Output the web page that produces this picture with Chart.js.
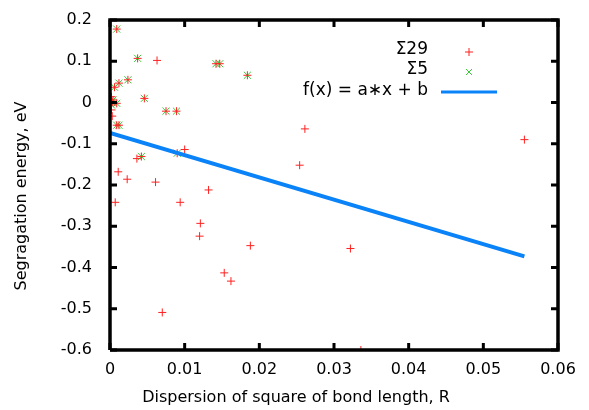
<!DOCTYPE html>
<html>
<head>
<meta charset="utf-8">
<script src="https://cdn.jsdelivr.net/npm/chart.js@4/dist/chart.umd.min.js"></script>
<style>
  html, body { margin: 0; padding: 0; background: #fff; }
</style>
</head>
<body>
<canvas id="chart" width="589" height="410"></canvas>
<script>
// axis ticks
const xTicks = [0, 0.01, 0.02, 0.03, 0.04, 0.05, 0.06];
const xTickLabels = ["0", "0.01", "0.02", "0.03", "0.04", "0.05", "0.06"];
const yTicks = [-0.6, -0.5, -0.4, -0.3, -0.2, -0.1, 0, 0.1, 0.2];
const yTickLabels = ["-0.6", "-0.5", "-0.4", "-0.3", "-0.2", "-0.1", "0", "0.1", "0.2"];

const seriesNames = ["\u03A329", "\u03A35", "f(x) = a\u2217x + b"];

// Σ5 points (green x)
const sigma5X = [0.0009, 0.0037, 0.0142, 0.0147, 0.0184, 0.0024, 0.0012, 0.0006, 0.0046,
  0.0009, 0.0075, 0.0089, 0.0009, 0.0012, 0.0042, 0.0090, 0.0003, 0.0002, 0.0004];
const sigma5Y = [0.178, 0.107, 0.094, 0.094, 0.066, 0.055, 0.047, 0.037, 0.010,
  -0.002, -0.021, -0.021, -0.055, -0.055, -0.131, -0.123, 0.001, -0.006, 0.006];

// Σ29 points (red +)
const sigma29X = [0.0009, 0.0037, 0.0142, 0.0147, 0.0184, 0.0024, 0.0012, 0.0006, 0.0046,
  0.0009, 0.0075, 0.0089, 0.0009, 0.0012, 0.0042, 0.0090, 0.0003, 0.0002, 0.0004,
  0.0002, 0.0002, 0.0003,
  0.0063, 0.0100, 0.0036, 0.0011, 0.0023, 0.0061, 0.0132, 0.0007, 0.0094, 0.0121,
  0.0120, 0.0188, 0.0153, 0.0162, 0.0070, 0.0254, 0.0261, 0.0322, 0.0336, 0.0555];
const sigma29Y = [0.178, 0.107, 0.094, 0.094, 0.066, 0.055, 0.047, 0.037, 0.010,
  -0.002, -0.021, -0.021, -0.055, -0.055, -0.131, -0.123, 0.001, -0.006, 0.006,
  0.014, -0.018, -0.033,
  0.102, -0.114, -0.136, -0.168, -0.186, -0.193, -0.212, -0.242, -0.242, -0.293,
  -0.324, -0.347, -0.413, -0.433, -0.509, -0.152, -0.064, -0.354, -0.600, -0.090];

// linear fit f(x) = a*x + b
const fitX = [0, 0.0555];
const fitY = [-0.074, -0.373];

const RED = "#ff2020";
const GREEN = "#3cc83c";
const BLUE = "#0a82f8";
const FONT = "DejaVu Sans";

const toPoints = (xs, ys) => xs.map((x, i) => ({ x: x, y: ys[i] }));

// frame of the plot, built from the axis ranges
const xMin = xTicks[0], xMax = xTicks[xTicks.length - 1];
const yMin = yTicks[0], yMax = yTicks[yTicks.length - 1];
const framePts = [
  { x: xMin, y: yMin }, { x: xMax, y: yMin }, { x: xMax, y: yMax },
  { x: xMin, y: yMax }, { x: xMin, y: yMin },
];

// inward ticks on all four sides, about 7 px long (448 x 330 px plot)
const tickDx = (xMax - xMin) * 7 / 448;
const tickDy = (yMax - yMin) * 7 / 330;
const tickPts = [];
xTicks.forEach((v) => {
  tickPts.push({ x: v, y: yMin }, { x: v, y: yMin + tickDy }, { x: v, y: null });
  tickPts.push({ x: v, y: yMax }, { x: v, y: yMax - tickDy }, { x: v, y: null });
});
yTicks.forEach((v) => {
  tickPts.push({ x: xMin, y: v }, { x: xMin + tickDx, y: v }, { x: xMin, y: null });
  tickPts.push({ x: xMax, y: v }, { x: xMax - tickDx, y: v }, { x: xMax, y: null });
});

// key (text left of the sample, like gnuplot) and axis titles
const keyPlugin = {
  id: "gnuplotKey",
  afterDraw(chart) {
    const ctx = chart.ctx;
    const rows = [50, 70, 91];
    const textRight = 428;
    const sampleX = 469;
    ctx.save();
    ctx.font = "17px '" + FONT + "'";
    ctx.fillStyle = "#000";
    ctx.textAlign = "right";
    ctx.textBaseline = "middle";
    seriesNames.forEach((name, i) => ctx.fillText(name, textRight, rows[i]));
    ctx.lineWidth = 1;
    ctx.strokeStyle = RED;
    ctx.beginPath();
    ctx.moveTo(sampleX - 4, rows[0] + 2); ctx.lineTo(sampleX + 4, rows[0] + 2);
    ctx.moveTo(sampleX, rows[0] - 2); ctx.lineTo(sampleX, rows[0] + 6);
    ctx.stroke();
    ctx.strokeStyle = GREEN;
    ctx.beginPath();
    ctx.moveTo(sampleX - 3, rows[1] - 1); ctx.lineTo(sampleX + 3, rows[1] + 5);
    ctx.moveTo(sampleX + 3, rows[1] - 1); ctx.lineTo(sampleX - 3, rows[1] + 5);
    ctx.stroke();
    ctx.strokeStyle = BLUE;
    ctx.lineWidth = 3;
    ctx.beginPath();
    ctx.moveTo(441, rows[2] + 1); ctx.lineTo(497, rows[2] + 1);
    ctx.stroke();

    ctx.font = "16px '" + FONT + "'";
    ctx.textAlign = "center";
    ctx.fillText("Dispersion of square of bond length, R", 296, 398);
    ctx.translate(22, 196);
    ctx.rotate(-Math.PI / 2);
    ctx.fillText("Segragation energy, eV", 0, 0);
    ctx.restore();
  },
};

new Chart(document.getElementById("chart"), {
  type: "scatter",
  data: {
    datasets: [
      {
        label: "frame",
        type: "line",
        data: framePts,
        borderColor: "#000",
        borderWidth: 3.5,
        borderJoinStyle: "miter",
        pointRadius: 0,
        fill: false,
        clip: false,
        order: -2,
      },
      {
        label: "ticks",
        type: "line",
        data: tickPts,
        borderColor: "#000",
        borderWidth: 3,
        borderCapStyle: "butt",
        pointRadius: 0,
        spanGaps: false,
        fill: false,
        clip: false,
        order: -1,
      },
      {
        label: seriesNames[2],
        type: "line",
        data: toPoints(fitX, fitY),
        borderColor: BLUE,
        borderWidth: 4,
        pointRadius: 0,
        fill: false,
        order: 0,
      },
      {
        label: seriesNames[0],
        data: toPoints(sigma29X, sigma29Y),
        pointStyle: "cross",
        pointRadius: 4,
        pointBorderWidth: 1,
        borderColor: RED,
        backgroundColor: RED,
        order: 1,
      },
      {
        label: seriesNames[1],
        data: toPoints(sigma5X, sigma5Y),
        pointStyle: "crossRot",
        pointRadius: 5,
        pointBorderWidth: 1,
        borderColor: GREEN,
        backgroundColor: GREEN,
        order: 2,
      },
    ],
  },
  options: {
    responsive: false,
    animation: false,
    layout: { padding: { left: 0, right: 31, top: 20, bottom: 0 } },
    plugins: {
      legend: { display: false },
      tooltip: { enabled: false },
    },
    scales: {
      x: {
        type: "linear",
        min: xMin,
        max: xMax,
        afterFit: (s) => { s.height = 60; s.paddingLeft = 0; s.paddingRight = 0; },
        afterBuildTicks: (s) => { s.ticks = xTicks.map((v) => ({ value: v })); },
        grid: { display: false, drawTicks: false },
        border: { display: false },
        ticks: {
          padding: 10,
          color: "#000",
          font: { family: FONT, size: 16 },
          maxRotation: 0,
          callback: (v, i) => xTickLabels[i],
        },
      },
      y: {
        type: "linear",
        min: yMin,
        max: yMax,
        afterFit: (s) => { s.width = 110; s.paddingTop = 0; s.paddingBottom = 0; },
        afterBuildTicks: (s) => { s.ticks = yTicks.map((v) => ({ value: v })); },
        grid: { display: false, drawTicks: false },
        border: { display: false },
        ticks: {
          padding: 18,
          color: "#000",
          font: { family: FONT, size: 16 },
          callback: (v, i) => yTickLabels[i],
        },
      },
    },
  },
  plugins: [keyPlugin],
});
</script>
</body>
</html>
